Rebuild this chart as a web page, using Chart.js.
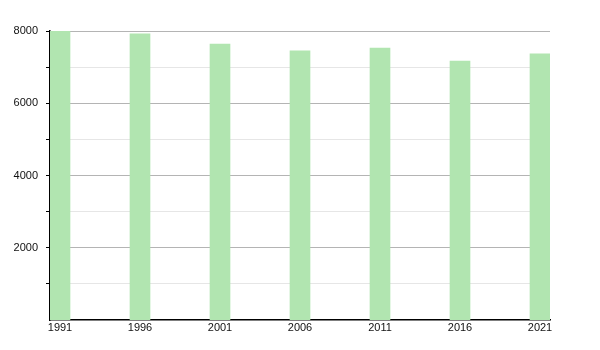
<html lang="en">
<head>
    <meta charset="UTF-8">
    <title>Population 1991-2021</title>
    <script src="https://cdn.jsdelivr.net/npm/chart.js"></script>
    <style>
        body {
            margin: 0;
            padding: 0;
            background-color: #ffffff;
        }
        .wrap {
            width: 600px;
            height: 350px;
        }
    </style>
</head>
<body>
    <div class="wrap">
        <canvas id="popChart" width="600" height="350"></canvas>
    </div>

    <script>
        // census years and population values
        const years = [1991, 1996, 2001, 2006, 2011, 2016, 2021];
        const population = [8010, 7920, 7640, 7450, 7530, 7170, 7370];
        const yTicks = [1000, 2000, 3000, 4000, 5000, 6000, 7000, 8000];
        const yLabelled = [2000, 4000, 6000, 8000];

        const ctx = document.getElementById("popChart").getContext("2d");

        new Chart(ctx, {
            type: 'bar',
            data: {
                datasets: [{
                    label: 'Population',
                    data: years.map((y, i) => ({ x: y, y: population[i] })),
                    backgroundColor: '#b1e5b0',
                    borderWidth: 0,
                    barThickness: 20
                }]
            },
            options: {
                responsive: false,
                animation: false,
                layout: {
                    padding: { top: 31, right: 50, left: 0, bottom: 0 }
                },
                plugins: {
                    legend: { display: false },
                    tooltip: { enabled: false }
                },
                scales: {
                    x: {
                        type: 'linear',
                        offset: false,
                        min: 1990.375,
                        max: 2021.625,
                        afterBuildTicks: function(scale) {
                            scale.ticks = years.map(v => ({ value: v }));
                        },
                        afterFit: function(scale) {
                            scale.height = 30;
                        },
                        ticks: {
                            autoSkip: false,
                            maxRotation: 0,
                            padding: 1,
                            color: '#111',
                            font: { family: 'Liberation Sans, Arial, sans-serif', size: 11 },
                            callback: v => String(v)
                        },
                        grid: {
                            display: true,
                            offset: false,
                            drawOnChartArea: false,
                            drawTicks: false
                        },
                        border: { color: '#000', width: 1.5 }
                    },
                    y: {
                        min: 0,
                        max: 8000,
                        afterBuildTicks: function(scale) {
                            scale.ticks = yTicks.map(v => ({ value: v }));
                        },
                        afterFit: function(scale) {
                            scale.width = 50;
                        },
                        ticks: {
                            padding: 8,
                            color: '#111',
                            font: { family: 'Liberation Sans, Arial, sans-serif', size: 11 },
                            callback: v => yLabelled.includes(v) ? String(v) : ''
                        },
                        grid: {
                            color: c => yLabelled.includes(c.tick.value) ? '#b4b4b4' : '#e6e6e6',
                            tickColor: '#000',
                            tickLength: 4,
                            lineWidth: 1
                        },
                        border: { color: '#000', width: 1.5 }
                    }
                }
            }
        });
    </script>
</body>
</html>
